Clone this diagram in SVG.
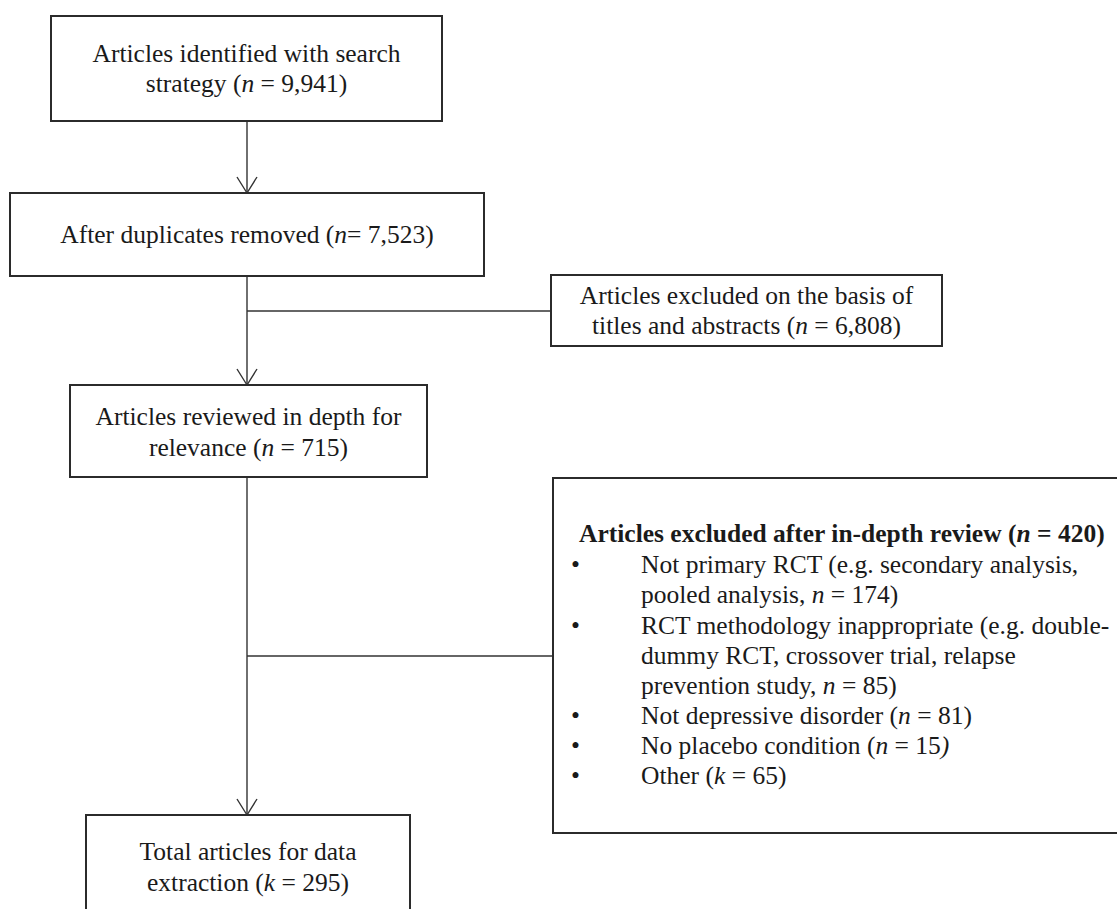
<svg xmlns="http://www.w3.org/2000/svg" width="1117" height="909" viewBox="0 0 1117 909">
<defs>
<style>
.box{fill:#fff;stroke:#2b2b2b;stroke-width:2}
.ln{fill:none;stroke:#333;stroke-width:1.4}
.t{font-family:"Liberation Serif","Times New Roman",serif;font-size:25.5px;fill:#1a1a1a}
.c{text-anchor:middle}
.b{font-weight:bold}
.i{font-style:italic}
</style>
<marker id="ah" markerWidth="20" markerHeight="24" viewBox="-18 -12 20 24" refX="0" refY="0" orient="auto" markerUnits="userSpaceOnUse">
<path d="M-16,-10 L0,0 L-16,10" fill="none" stroke="#333" stroke-width="1.4"/>
</marker>
</defs>
<rect width="1117" height="909" fill="#fff"/>
<g id="connectors">
<line class="ln" x1="247" y1="121" x2="247" y2="193" marker-end="url(#ah)"/>
<line class="ln" x1="247" y1="276" x2="247" y2="385" marker-end="url(#ah)"/>
<line class="ln" x1="247" y1="311" x2="551" y2="311"/>
<line class="ln" x1="247" y1="477" x2="247" y2="815" marker-end="url(#ah)"/>
<line class="ln" x1="247" y1="656" x2="553" y2="656"/>
</g>
<g id="n1">
<rect class="box" x="51" y="16" width="391" height="105"/>
<text class="t c" x="246.5" y="62">Articles identified with search</text>
<text class="t c" x="246.5" y="92">strategy (<tspan class="i">n</tspan> = 9,941)</text>
</g>
<g id="n2">
<rect class="box" x="10" y="193" width="474" height="83"/>
<text class="t c" x="247" y="243">After duplicates removed (<tspan class="i">n</tspan>= 7,523)</text>
</g>
<g id="n3">
<rect class="box" x="551" y="275" width="391" height="71"/>
<text class="t c" x="746.5" y="304">Articles excluded on the basis of</text>
<text class="t c" x="746.5" y="334">titles and abstracts (<tspan class="i">n</tspan> = 6,808)</text>
</g>
<g id="n4">
<rect class="box" x="70" y="385" width="357" height="92"/>
<text class="t c" x="248.5" y="425">Articles reviewed in depth for</text>
<text class="t c" x="248.5" y="456">relevance (<tspan class="i">n</tspan> = 715)</text>
</g>
<g id="n5">
<rect class="box" x="553" y="478" width="570" height="355"/>
<text class="t b" x="579" y="542">Articles excluded after in-depth review (<tspan class="i">n</tspan> = 420)</text>
<text class="t" x="571" y="573">•</text>
<text class="t" x="641" y="573">Not primary RCT (e.g. secondary analysis,</text>
<text class="t" x="641" y="603">pooled analysis, <tspan class="i">n</tspan> = 174)</text>
<text class="t" x="571" y="634">•</text>
<text class="t" x="641" y="634">RCT methodology inappropriate (e.g. double-</text>
<text class="t" x="641" y="664">dummy RCT, crossover trial, relapse</text>
<text class="t" x="641" y="694">prevention study, <tspan class="i">n</tspan> = 85)</text>
<text class="t" x="571" y="724">•</text>
<text class="t" x="641" y="724">Not depressive disorder (<tspan class="i">n</tspan> = 81)</text>
<text class="t" x="571" y="754">•</text>
<text class="t" x="641" y="754">No placebo condition (<tspan class="i">n</tspan> = 15<tspan class="i">)</tspan></text>
<text class="t" x="571" y="784">•</text>
<text class="t" x="641" y="784">Other (<tspan class="i">k</tspan> = 65)</text>
</g>
<g id="n6">
<rect class="box" x="86" y="815" width="324" height="110"/>
<text class="t c" x="248" y="860">Total articles for data</text>
<text class="t c" x="248" y="891">extraction (<tspan class="i">k</tspan> = 295)</text>
</g>
</svg>
